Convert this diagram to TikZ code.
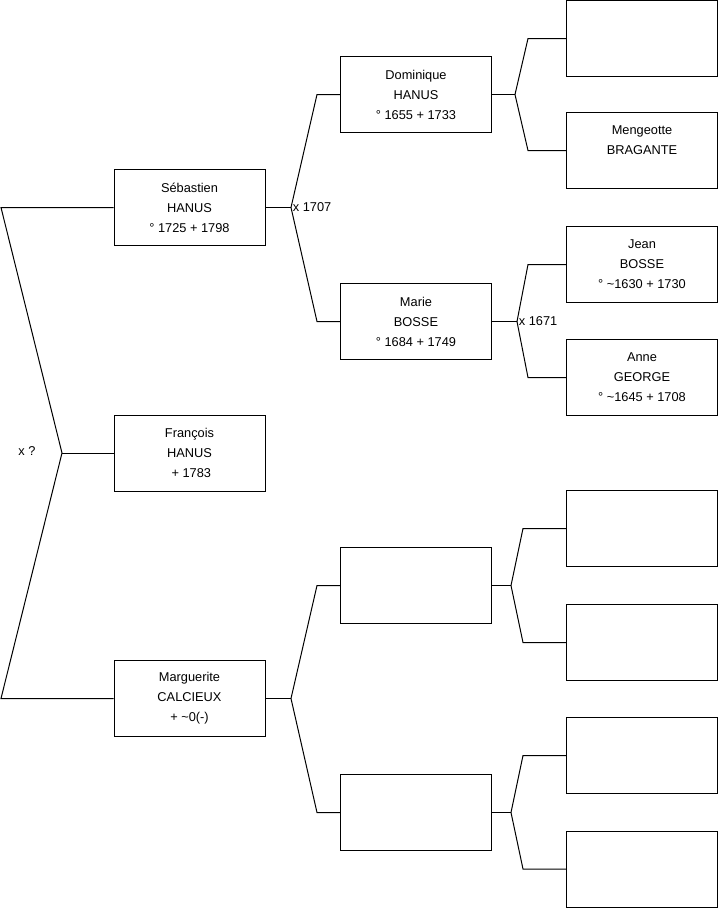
\documentclass[tikz,border=0pt]{standalone}
\usepackage{fontspec}
\setmainfont{Liberation Sans}
\usepackage{tikz}

\begin{document}
\begin{tikzpicture}[x=0.75pt, y=-0.75pt, line width=0.75pt,
    person/.style={draw, rectangle, minimum width=113.25pt, minimum height=57pt, align=center, inner sep=0pt, font=\fontsize{9.6}{15}\selectfont},
    union/.style={anchor=west, inner sep=1pt, font=\fontsize{9.6}{11}\selectfont}]
    \useasboundingbox (0,0) rectangle (719,908);

    % Generation 1
    \node (seb) at (189.5, 207.5) [person] {Sébastien \\ HANUS \\ ° 1725 + 1798};
    \node (fra) at (189.5, 453) [person] {François \\ HANUS \\ \ + 1783};
    \node (marg) at (189.5, 698.5) [person] {Marguerite \\ CALCIEUX \\ + \textasciitilde0(-)};
    \coordinate (jroot) at (62, 453);
    \coordinate (rtop) at (1, 207.5);
    \coordinate (rbot) at (1, 698.5);
    \draw (seb.west) -- (rtop) -- (jroot) -- (rbot) -- (marg.west);
    \draw (jroot) -- (fra.west);
    \node (xroot) at (27, 451) [font=\fontsize{9.6}{11}\selectfont] {x ?};

    % Generation 2
    \node (dom) at (416, 94.5) [person] {Dominique \\ HANUS \\ ° 1655 + 1733};
    \node (marie) at (416, 321.5) [person] {Marie \\ BOSSE \\ ° 1684 + 1749};
    \node (blankA) at (416, 585.5) [person] {};
    \node (blankB) at (416, 812.5) [person] {};
    \coordinate (jseb) at (291, 207.5);
    \coordinate (jmarg) at (291, 698.5);
    \draw (seb.east) -- (jseb);
    \draw (dom.west) -- ++(-23,0) -- (jseb);
    \draw (marie.west) -- ++(-23,0) -- (jseb);
    \node (xseb) at (jseb) [union] {x 1707};
    \draw (marg.east) -- (jmarg);
    \draw (blankA.west) -- ++(-23,0) -- (jmarg);
    \draw (blankB.west) -- ++(-23,0) -- (jmarg);

    % Generation 3
    \node (g1) at (642, 38.5) [person] {};
    \node (g2) at (642, 150.5) [person] {Mengeotte \\ BRAGANTE \\ \mbox{}};
    \node (g3) at (642, 264.5) [person] {Jean \\ BOSSE \\ ° \textasciitilde1630 + 1730};
    \node (g4) at (642, 377.5) [person] {Anne \\ GEORGE \\ ° \textasciitilde1645 + 1708};
    \node (g5) at (642, 528.5) [person] {};
    \node (g6) at (642, 642.5) [person] {};
    \node (g7) at (642, 755.5) [person] {};
    \node (g8) at (642, 869) [person] {};
    \coordinate (jdom) at (515, 94.5);
    \coordinate (jmarie) at (517, 321.5);
    \coordinate (jblankA) at (511, 585.5);
    \coordinate (jblankB) at (511, 812.5);
    \draw (dom.east) -- (jdom);
    \draw (g1.west) -- ++(-38,0) -- (jdom);
    \draw (g2.west) -- ++(-38,0) -- (jdom);
    \draw (marie.east) -- (jmarie);
    \draw (g3.west) -- ++(-38,0) -- (jmarie);
    \draw (g4.west) -- ++(-38,0) -- (jmarie);
    \node (xmarie) at (jmarie) [union] {x 1671};
    \draw (blankA.east) -- (jblankA);
    \draw (g5.west) -- ++(-43,0) -- (jblankA);
    \draw (g6.west) -- ++(-43,0) -- (jblankA);
    \draw (blankB.east) -- (jblankB);
    \draw (g7.west) -- ++(-43,0) -- (jblankB);
    \draw (g8.west) -- ++(-43,0) -- (jblankB);
\end{tikzpicture}
\end{document}
